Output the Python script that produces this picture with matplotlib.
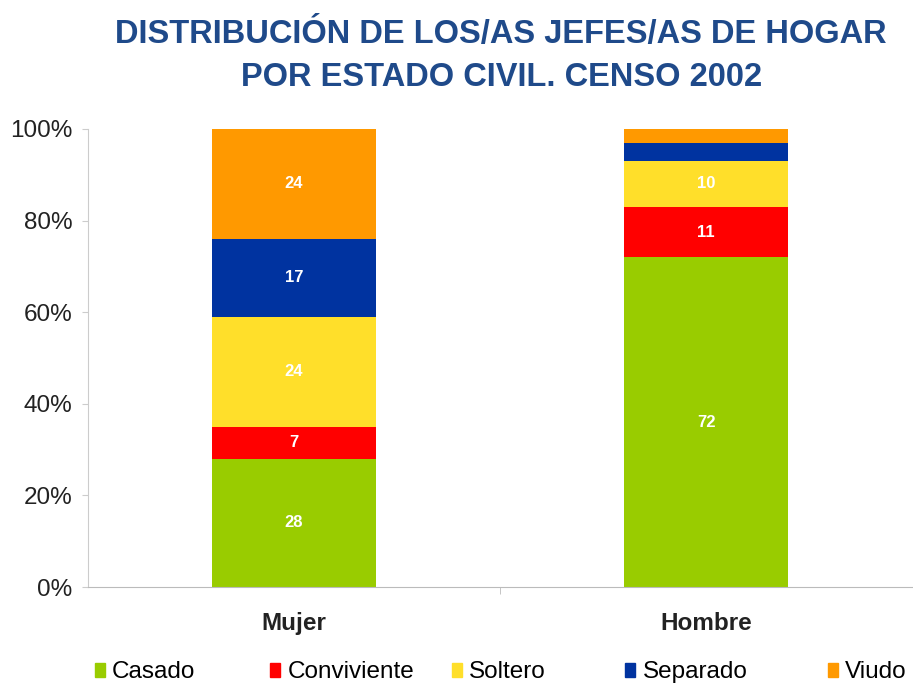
import numpy as np
import matplotlib
matplotlib.use('Agg')
import matplotlib.pyplot as plt
from matplotlib.patches import Patch

# Jefes/as de hogar por estado civil, Censo 2002 (porcentajes)
sexos = ["Mujer", "Hombre"]
estados = ["Casado", "Conviviente", "Soltero", "Separado", "Viudo"]
casado = [28, 72]
conviviente = [7, 11]
soltero = [24, 10]
separado = [17, 4]
viudo = [24, 3]
colores = ["#99CC00", "#FF0000", "#FFDF2A", "#0033A0", "#FF9900"]

plt.rcParams['font.family'] = ['Liberation Sans', 'DejaVu Sans']

fig = plt.figure(figsize=(9.13, 6.86), dpi=100)
ax = fig.add_axes([0.0964, 0.1443, 0.9026, 0.6677])

series = [casado, conviviente, soltero, separado, viudo]
x = np.arange(len(sexos))
bottom = np.zeros(len(sexos))
for vals, col in zip(series, colores):
    vals = np.array(vals, dtype=float)
    ax.bar(x, vals, 0.4, bottom=bottom, color=col, edgecolor='none')
    for xi, v, b in zip(x, vals, bottom):
        if v >= 7:
            ax.text(xi, b + v / 2, str(int(v)), ha='center', va='center',
                    color='white', fontsize=12, fontweight='bold')
    bottom += vals

ax.set_xlim(-0.5, 1.5)
ax.set_ylim(0, 100)
ax.set_yticks(range(0, 101, 20))
ax.set_yticklabels([f"{v}%" for v in range(0, 101, 20)])
ax.set_xticks(x)
ax.set_xticklabels(sexos, fontweight='bold')
ax.set_xticks([0.5], minor=True)
ax.tick_params(axis='x', which='major', length=0, pad=18, labelsize=17.5, colors='#222222')
ax.tick_params(axis='x', which='minor', length=5, color='#BBBBBB')
ax.tick_params(axis='y', length=4, color='#CCCCCC', labelsize=17.5, labelcolor='#222222', pad=7)
for s in ['top', 'right']:
    ax.spines[s].set_visible(False)
ax.spines['left'].set_color('#CCCCCC')
ax.spines['bottom'].set_color('#BBBBBB')

fig.text(0.549, 0.9373, "DISTRIBUCIÓN DE LOS/AS JEFES/AS DE HOGAR",
         ha='center', va='baseline', fontsize=23.5, fontweight='bold', color='#1F4A8A')
fig.text(0.549, 0.8746, "POR ESTADO CIVIL. CENSO 2002",
         ha='center', va='baseline', fontsize=23.5, fontweight='bold', color='#1F4A8A')

# leyenda repartida a lo ancho
xs = [0.104, 0.296, 0.495, 0.685, 0.907]
for lab, col, xp in zip(estados, colores, xs):
    fig.legend([Patch(color=col)], [lab], loc='center left',
               bbox_to_anchor=(xp, 0.02), frameon=False, fontsize=17.5,
               handlelength=0.4, handleheight=0.5, handletextpad=0.3,
               borderaxespad=0, borderpad=0)

fig.savefig("out.png", dpi=100)
